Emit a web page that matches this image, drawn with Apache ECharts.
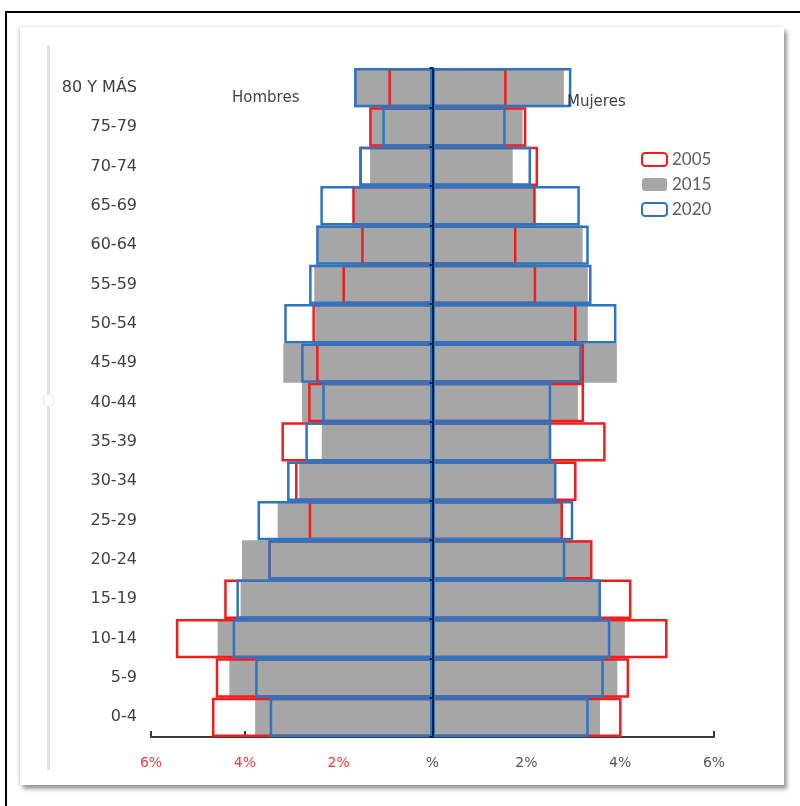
<!DOCTYPE html>
<html>
<head>
<meta charset="utf-8">
<script src="https://cdn.jsdelivr.net/npm/echarts@6/dist/echarts.min.js"></script>
<style>
  html, body { margin: 0; padding: 0; background: #fff; }
  #frame { position: absolute; left: 5px; top: 11px; width: 800px; height: 800px;
           border-left: 2px solid #000; border-top: 2px solid #000; }
  #card { position: absolute; left: 20px; top: 27px; width: 764px; height: 758px; background: #fff;
          box-shadow: 3px 4px 4px #9a9a9a, -1px 0 3px #cfcfcf; }
  #vline { position: absolute; left: 47px; top: 45px; width: 3px; height: 725px; background: #e2e2e2; }
  #knob { position: absolute; left: 43px; top: 394px; width: 9px; height: 11px; border-radius: 5px;
          background: #fff; border: 1px solid #e6e6e6; }
  #chart { position: absolute; left: 0; top: 0; width: 800px; height: 806px; }
</style>
</head>
<body>
<div id="frame"></div>
<div id="card"></div>
<div id="vline"></div>
<div id="knob"></div>
<div id="chart"></div>
<script>
// Age groups, bottom to top
const categories = ['0-4','5-9','10-14','15-19','20-24','25-29','30-34','35-39','40-44','45-49','50-54','55-59','60-64','65-69','70-74','75-79','80 Y MÁS'];

// Hombres (% of population)
const hombres2005 = [4.70, 4.62, 5.47, 4.44, 3.50, 2.64, 2.93, 3.22, 2.65, 2.48, 2.56, 1.92, 1.52, 1.71, 1.56, 1.35, 0.94];
const hombres2015 = [3.78, 4.33, 4.58, 4.09, 4.06, 3.30, 2.84, 2.36, 2.78, 3.18, 2.50, 2.52, 2.46, 1.70, 1.33, 1.33, 1.67];
const hombres2020 = [3.47, 3.78, 4.26, 4.18, 3.50, 3.73, 3.10, 2.71, 2.35, 2.80, 3.16, 2.63, 2.48, 2.39, 1.56, 1.07, 1.67];

// Mujeres (% of population)
const mujeres2005 = [4.03, 4.19, 5.01, 4.24, 3.41, 2.78, 3.07, 3.69, 3.23, 3.23, 3.07, 2.21, 1.79, 2.20, 2.25, 2.00, 1.58];
const mujeres2015 = [3.57, 3.94, 4.10, 3.59, 3.38, 2.78, 2.64, 2.53, 3.10, 3.93, 3.31, 3.31, 3.20, 2.18, 1.71, 1.92, 2.80];
const mujeres2020 = [3.33, 3.65, 3.79, 3.59, 2.83, 3.00, 2.64, 2.53, 2.53, 3.18, 3.92, 3.39, 3.33, 3.14, 2.10, 1.56, 2.96];

const years = ['2005', '2015', '2020'];
const xTicks = { min: -6, max: 6, step: 2 };
const sideLabels = ['Hombres', 'Mujeres'];

const neg = a => a.map(v => -v);
const RED = '#f21c1c', BLUE = '#2e74c0', GRAY = '#a6a6a6';

const outline = c => ({ color: 'rgba(0,0,0,0)', borderColor: c, borderWidth: 2.5 });
const fill = c => ({ color: c, borderWidth: 0 });

const mk = (name, stack, data, style) => ({
  type: 'bar', name, stack, data, itemStyle: style,
  barGap: '-100%', barCategoryGap: 0, yAxisIndex: 0,
  emphasis: { disabled: true }, animation: false
});

const chart = echarts.init(document.getElementById('chart'), null, { renderer: 'canvas' });
chart.setOption({
  backgroundColor: 'transparent',
  animation: false,
  grid: { left: 151, right: 86, top: 68, bottom: 69, containLabel: false },
  legend: {
    data: years, orient: 'vertical', left: 636, top: 146,
    itemWidth: 25, itemHeight: 13, itemGap: 8,
    textStyle: { fontFamily: 'Lato', fontSize: 17, color: '#5f5f5f' }
  },
  xAxis: {
    type: 'value', min: xTicks.min, max: xTicks.max, interval: xTicks.step,
    axisLine: { show: true, onZero: false, lineStyle: { color: '#3a3a3a', width: 2 } },
    axisTick: { show: true, inside: true, length: 6, lineStyle: { color: '#3a3a3a', width: 2 } },
    splitLine: { show: false },
    axisLabel: {
      margin: 19, fontFamily: 'DejaVu Sans', fontSize: 14,
      formatter: v => v === 0 ? '%' : Math.abs(v) + '%',
      color: v => (v < 0 ? '#f03a3a' : '#555')
    }
  },
  yAxis: [
    {
      type: 'category', data: categories, position: 'left',
      axisLine: { show: false, onZero: false },
      axisTick: { show: false },
      axisLabel: { margin: 14, fontFamily: 'DejaVu Sans', fontSize: 16, color: '#404040' }
    },
    {
      type: 'category', data: categories, position: 'left',
      axisLine: { show: true, onZero: true, lineStyle: { color: '#14213d', width: 2 } },
      axisTick: { show: true, length: 3, lineStyle: { color: '#14213d', width: 2 } },
      axisLabel: { show: false },
      z: 10
    }
  ],
  graphic: [
    { type: 'text', left: 232, top: 91, style: { text: sideLabels[0], fontFamily: 'DejaVu Sans', fontSize: 15, fill: '#444' }, z: 100 },
    { type: 'text', left: 567, top: 95, style: { text: sideLabels[1], fontFamily: 'DejaVu Sans', fontSize: 15, fill: '#444' }, z: 100 }
  ],
  series: [
    mk(years[1], 's15', neg(hombres2015), fill(GRAY)),
    mk(years[1], 's15', mujeres2015, fill(GRAY)),
    mk(years[0], 's05', neg(hombres2005), outline(RED)),
    mk(years[0], 's05', mujeres2005, outline(RED)),
    mk(years[2], 's20', neg(hombres2020), outline(BLUE)),
    mk(years[2], 's20', mujeres2020, outline(BLUE))
  ]
});
</script>
</body>
</html>
